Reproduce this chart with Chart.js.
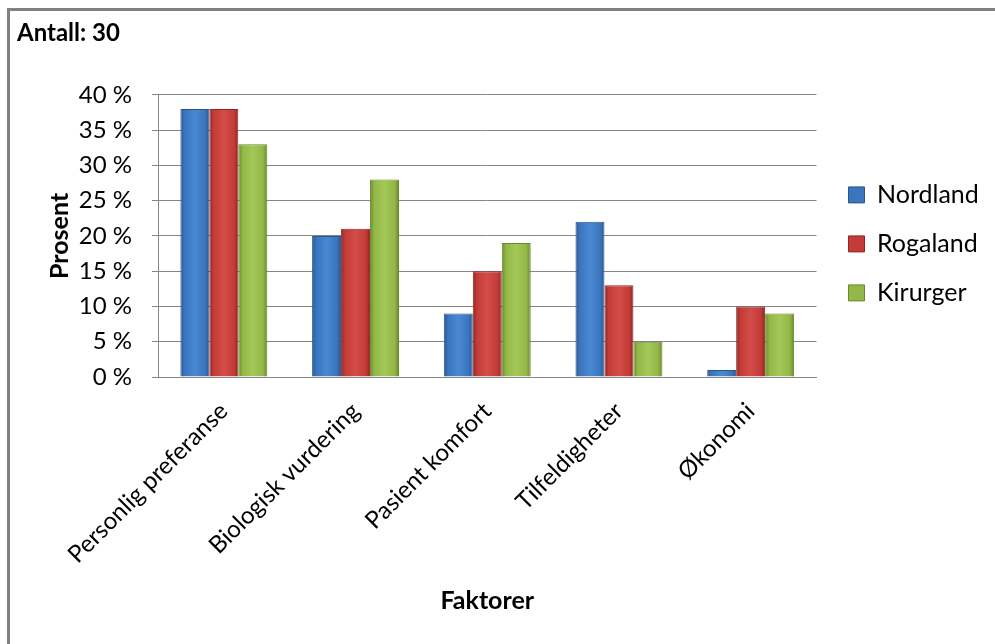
<!DOCTYPE html>
<html>
<head>
<meta charset="utf-8">
<script src="https://cdn.jsdelivr.net/npm/chart.js@4.4.1/dist/chart.umd.min.js"></script>
<style>
  html, body { margin: 0; padding: 0; background: #fff; overflow: hidden; }
  #frame { position: absolute; left: 7px; top: 8px; width: 1100px; height: 800px;
           border: 3px solid #808080; box-sizing: border-box; }
  #c { position: absolute; left: 0; top: 0; }
</style>
</head>
<body>
<div id="frame"></div>
<canvas id="c" width="995" height="644"></canvas>
<script>
// Faktorer (kategorier) og andel per gruppe, i prosent
const categories = ['Personlig preferanse', 'Biologisk vurdering', 'Pasient komfort', 'Tilfeldigheter', 'Økonomi'];
const nordland = [38, 20, 9, 22, 1];
const rogaland = [38, 21, 15, 13, 10];
const kirurger = [33, 28, 19, 5, 9];
const seriesNames = ['Nordland', 'Rogaland', 'Kirurger'];

const FONT = 'Lato, "Noto Sans", sans-serif';
const GRID = '#868686';

// mørk kant, midtfarge, lys midtstripe (Excel-aktig "bevel")
const shades = [
  ['#2a568c', '#3a76c0', '#4a88d2'],
  ['#8e2624', '#c43c38', '#d24c48'],
  ['#6a882a', '#93b848', '#a3c858'],
];

const bevel = {
  id: 'bevel',
  beforeDatasetsDraw(chart) {
    const ctx = chart.ctx;
    chart.data.datasets.forEach((ds, i) => {
      const [dark, mid, light] = shades[i];
      chart.getDatasetMeta(i).data.forEach(bar => {
        const x0 = bar.x - bar.width / 2, x1 = bar.x + bar.width / 2;
        const g = ctx.createLinearGradient(x0, 0, x1, 0);
        g.addColorStop(0, dark);
        g.addColorStop(0.15, mid);
        g.addColorStop(0.5, light);
        g.addColorStop(0.85, mid);
        g.addColorStop(1, dark);
        bar.options = Object.assign({}, bar.options, { backgroundColor: g });
      });
    });
  }
};

Chart.defaults.color = '#000';
Chart.defaults.font.family = FONT;

const values = [nordland, rogaland, kirurger];

new Chart(document.getElementById('c'), {
  type: 'bar',
  data: {
    labels: categories,
    datasets: seriesNames.map((name, i) => ({
      label: name,
      data: values[i],
      backgroundColor: shades[i][1],
      borderColor: shades[i][0],
      borderWidth: 1,
      barPercentage: 1,
      categoryPercentage: 0.66,
    }))
  },
  plugins: [bevel],
  options: {
    responsive: false,
    animation: false,
    layout: { padding: { left: 17, right: 9, top: 0, bottom: 0 } },
    plugins: {
      title: {
        display: true,
        text: 'Antall: 30',
        align: 'start',
        font: { size: 24, weight: 'bold' },
        padding: { top: 19, bottom: 47 },
      },
      legend: {
        position: 'right',
        fullSize: false,
        title: { display: true, text: ' ', font: { size: 10 }, padding: 2 },
        labels: {
          boxWidth: 16,
          boxHeight: 16,
          padding: 24,
          font: { size: 25 },
        }
      },
      tooltip: { enabled: false },
    },
    scales: {
      x: {
        grid: { display: false, drawTicks: false },
        border: { display: true, color: GRID, width: 1 },
        ticks: {
          autoSkip: false,
          minRotation: 45,
          maxRotation: 45,
          padding: 20,
          font: { size: 24 },
        },
        title: {
          display: true,
          text: 'Faktorer',
          font: { size: 25, weight: 'bold' },
          padding: { top: 0, bottom: 28 },
        },
        afterFit: s => { s.height = 267; },
      },
      y: {
        min: 0,
        max: 40,
        grid: { color: GRID, tickLength: 6 },
        border: { display: true, color: GRID, width: 1 },
        ticks: {
          stepSize: 5,
          padding: 20,
          font: { size: 24 },
          callback: v => v + ' %',
        },
        title: {
          display: true,
          text: 'Prosent',
          font: { size: 25, weight: 'bold' },
          padding: { top: 28, bottom: 0 },
        },
        afterFit: s => { s.width = 141; },
      },
      // tom akse til høyre: bare luft mellom plottet og forklaringen
      gap: {
        type: 'linear',
        position: 'right',
        grid: { display: false, drawTicks: false },
        border: { display: false },
        ticks: { display: false },
        afterFit: s => { s.width = 8; },
      }
    }
  }
});
</script>
</body>
</html>
